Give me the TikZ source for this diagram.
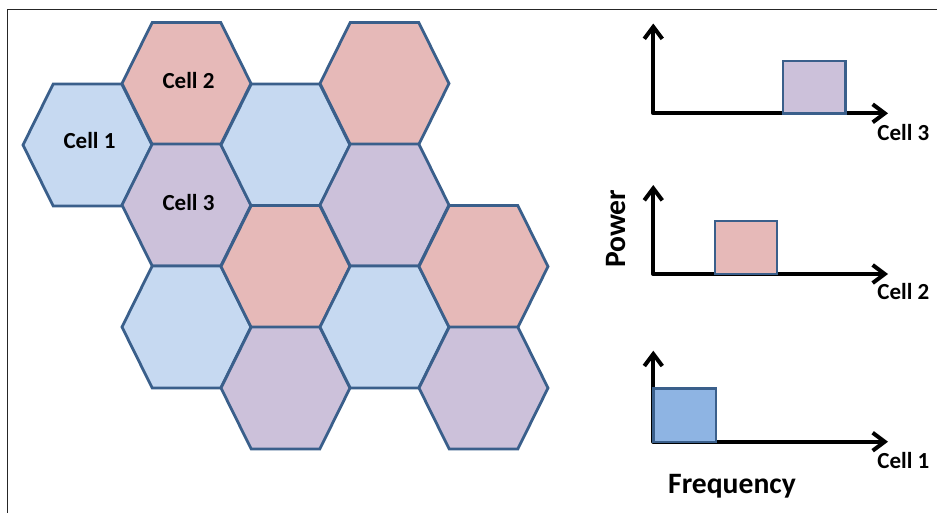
\documentclass[tikz,border=0pt]{standalone}
\usepackage{fontspec}
\setmainfont{Carlito}
\usetikzlibrary{arrows.meta}
\definecolor{hexblue}{HTML}{C6D9F1}
\definecolor{hexpink}{HTML}{E6B9B8}
\definecolor{hexpurple}{HTML}{CCC1DA}
\definecolor{hexborder}{HTML}{3A5F8B}
\definecolor{barblue}{HTML}{8EB4E3}
\begin{document}
\begin{tikzpicture}[x=1pt,y=-1pt,
  hexcell/.style={draw=hexborder,line width=2.8pt},
  cellname/.style={font=\fontsize{23}{25}\selectfont\bfseries,inner sep=0pt,anchor=base},
  axislabel/.style={font=\fontsize{23}{25}\selectfont\bfseries,inner sep=0pt,anchor=base east},
  axistitle/.style={font=\fontsize{29.6}{32}\selectfont\bfseries,inner sep=0pt,anchor=base},
  axisline/.style={line width=4pt,line cap=round,line join=round,{Straight Barb[length=12pt,width=18pt,line width=4pt]}-{Straight Barb[length=12pt,width=18pt,line width=4pt]}},
  bar/.style={draw=hexborder,line width=2.4pt}]
\useasboundingbox (0,0) rectangle (937,512);
\fill[white] (0,0) rectangle (937,512);
% frame
\draw[line width=1.4pt,black!85] (7.3,520) -- (7.3,9.5) -- (945,9.5);
% hexagons
\newcommand{\hexcell}[3]{%
  \filldraw[hexcell,fill=#3] (#1,#2) +(-64.5,0) -- +(-34.3,-61) -- +(34.3,-61) -- +(64.5,0) -- +(34.3,61) -- +(-34.3,61) -- cycle;}
\hexcell{87.5}{145}{hexblue}
\hexcell{186.5}{83.5}{hexpink}
\hexcell{186.5}{205}{hexpurple}
\hexcell{186.5}{327}{hexblue}
\hexcell{285.5}{145}{hexblue}
\hexcell{285.5}{266.5}{hexpink}
\hexcell{285.5}{388}{hexpurple}
\hexcell{384.5}{83.5}{hexpink}
\hexcell{384.5}{205}{hexpurple}
\hexcell{384.5}{327}{hexblue}
\hexcell{483.5}{266.5}{hexpink}
\hexcell{483.5}{388}{hexpurple}
\node[cellname] (c1) at (89.5,148.3) {Cell 1};
\node[cellname] (c2) at (188.5,88.3) {Cell 2};
\node[cellname] (c3) at (188.5,210) {Cell 3};
% chart for cell 3
\coordinate (y3) at (653.3,23.5);
\coordinate (x3) at (888,113.3);
\draw[axisline] (y3) |- (x3);
\filldraw[bar,fill=hexpurple] (782.7,60.7) rectangle (845.3,113.3);
\node[axislabel] (l3) at (929.5,140.7) {Cell 3};
% chart for cell 2
\coordinate (y2) at (653.3,185);
\coordinate (x2) at (888,274);
\draw[axisline] (y2) |- (x2);
\filldraw[bar,fill=hexpink] (714.7,220.7) rectangle (776.7,274);
\node[axislabel] (l2) at (929.5,299.3) {Cell 2};
% chart for cell 1
\coordinate (y1) at (653.3,350.7);
\coordinate (x1) at (888,441.7);
\draw[axisline] (y1) |- (x1);
\filldraw[bar,fill=barblue] (653.3,388.3) rectangle (715.7,441.7);
\node[axislabel] (l1) at (929.5,468.3) {Cell 1};
% titles
\node[axistitle,rotate=90] (pw) at (625,228.8) {Power};
\node[axistitle] (fq) at (732,493.3) {Frequency};
\end{tikzpicture}
\end{document}
